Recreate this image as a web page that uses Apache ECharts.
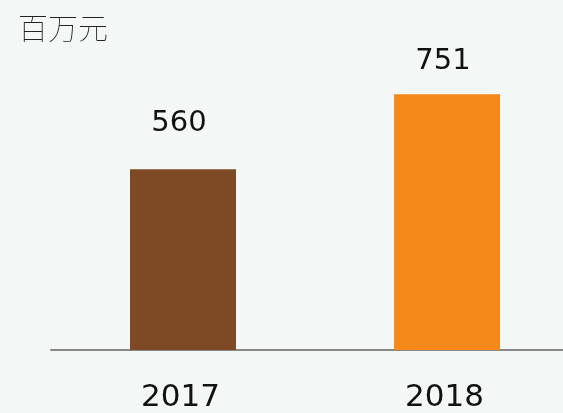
<!DOCTYPE html>
<html>
<head>
<meta charset="utf-8">
<script src="https://cdn.jsdelivr.net/npm/echarts@6/dist/echarts.min.js"></script>
<style>
  html, body { margin: 0; padding: 0; background: #f3f7f6; overflow: hidden; }
  /* the axis runs past the right edge in the original, so the canvas is a bit wider than the window */
  #chart { width: 579px; height: 413px; }
</style>
</head>
<body>
<div id="chart"></div>
<script>
const years = ['2017', '2018']
const values = [560, 751]
const unitLabel = '百万元'

const barColors = ['#7e4a26', '#f5891a']
// label gap above each bar, as it sits in the picture
const labelGap = [31, 18]

const chart = echarts.init(document.getElementById('chart'), null, { renderer: 'canvas' })

chart.setOption({
  backgroundColor: '#f3f7f6',
  animation: false,
  title: {
    text: unitLabel,
    left: 13,
    top: 8,
    textStyle: { color: '#222', fontSize: 30, fontWeight: 'lighter', fontFamily: 'Noto Sans CJK SC' },
  },
  grid: { left: 51, right: 0, top: 75, bottom: 57 },
  xAxis: {
    type: 'category',
    data: years,
    axisLine: { lineStyle: { color: '#888', width: 2 } },
    axisTick: { show: false },
    axisLabel: {
      color: '#111',
      fontSize: 31,
      fontFamily: 'DejaVu Sans',
      margin: 32,
      padding: [0, 5, 0, 0],
    },
  },
  yAxis: {
    type: 'value',
    min: 100,
    max: 800,
    show: false,
    splitLine: { show: false },
  },
  series: [{
    type: 'bar',
    barWidth: 106,
    data: values.map((v, i) => ({
      value: v,
      itemStyle: { color: barColors[i] },
      label: { distance: labelGap[i] },
    })),
    label: {
      show: true,
      position: 'top',
      color: '#111',
      fontSize: 29,
      fontFamily: 'DejaVu Sans',
      offset: [-4, 0],
    },
  }],
})
</script>
</body>
</html>
